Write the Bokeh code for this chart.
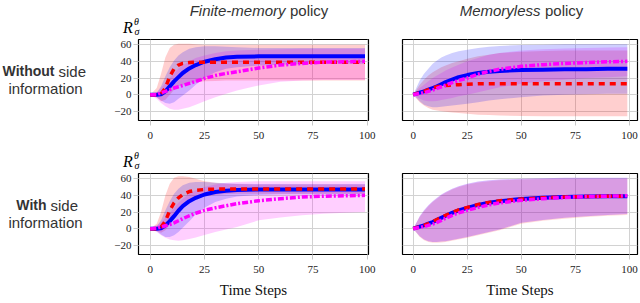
from bokeh.plotting import figure
from bokeh.layouts import column, row
from bokeh.models import Range1d, FixedTicker
from bokeh.core.properties import value
from bokeh.embed import file_html
from bokeh.resources import INLINE

# ---------------- data ----------------
T = [0, 3, 5, 7, 9, 11, 13, 15, 18, 21, 25, 30, 35, 40, 50, 60, 70, 80, 90, 99]
x_ticks = [0, 25, 50, 75, 100]
y_ticks = [-20, 0, 20, 40, 60]
col_titles = [("Finite-memory", "policy"), ("Memoryless", "policy")]
row_titles = [("Without", "side", "information"), ("With", "side", "information")]
x_label = "Time Steps"

# Finite-memory, without side information
TL_blue = [0, 0, 0.5, 4, 10, 16, 21, 26, 31.5, 35.5, 39.5, 42.5, 44.5, 45.5, 46, 46, 46, 46, 46, 46]
TL_blue_hi = [0, 2, 10, 22, 33, 41, 47, 51, 55, 57, 58, 58, 57.5, 57, 56, 56, 56, 56, 56, 56]
TL_blue_lo = [0, -3, -7, -10, -11, -9, -5, -1, 5, 12, 20, 27, 31, 33, 35, 36, 36.5, 37, 37, 37]
TL_red = [0, 0, 1, 8, 22, 31, 35.5, 37.5, 38.5, 39, 39, 39, 39, 39, 39, 39, 39, 39, 39, 39]
TL_red_hi = [0, 8, 25, 45, 56, 60, 61, 61, 61, 60.5, 60, 60, 60, 60, 60, 60, 60, 60, 60, 60]
TL_red_lo = [0, -3, -8, -6, 0, 6, 10, 12, 14, 15, 16, 16.5, 17, 17, 17, 17, 17, 17, 17, 17]
TL_mag = [0, 0, 2, 4, 6, 8, 9.5, 11, 13.5, 16, 19.5, 23, 25.5, 27.5, 32, 35.5, 37.5, 39, 39.5, 40]
TL_mag_hi = [0, 3, 8, 14, 20, 26, 31, 35, 40, 44, 47, 50, 52, 53, 54, 54.5, 55, 55, 55, 55]
TL_mag_lo = [0, -5, -10, -14, -17, -18, -18, -17, -15, -12, -8, -3, 1, 5, 11, 15.5, 17, 17.5, 17.5, 17.5]

# Memoryless, without side information
TR_blue = [0, 2.5, 4, 6, 8, 10, 12.5, 15, 18, 21, 23.5, 26, 27.5, 28.5, 29.5, 30, 30.5, 30.5, 31, 31]
TR_blue_hi = [0, 17, 25, 31, 37, 41, 44.5, 47, 50, 52, 54, 56, 57.5, 58.5, 59.5, 60, 60.5, 60.5, 60.5, 60.5]
TR_blue_lo = [0, -8, -12, -14, -15, -15, -14.5, -14, -13, -12, -11, -9, -7, -5.5, -3, -1, 0, 0.5, 1, 1]
TR_red = [0, 2.5, 4, 6, 8, 9.5, 10.5, 11, 11.5, 12, 12.5, 13, 13, 13, 13, 13, 13, 13, 13, 13]
TR_red_hi = [0, 12, 18, 23, 27, 30, 33, 35, 38, 40, 43, 46, 48, 50, 51.5, 52.5, 53, 53, 53, 53]
TR_red_lo = [0, -9, -13, -16, -18, -19, -20, -20.5, -21.5, -22, -23, -24, -24.5, -25, -25.5, -26, -26, -26, -26, -26]
TR_mag = [0, 1.5, 2.5, 4, 5.5, 7.5, 9.5, 11.5, 14.5, 17, 20, 24.5, 28, 30.5, 34, 36, 37.5, 38.5, 39.5, 40]
TR_mag_hi = [0, 8, 12, 16, 20, 23, 26, 29, 32.5, 36, 40, 44, 48, 50, 53, 54.5, 55.5, 56, 56.5, 57]
TR_mag_lo = [0, -5, -7, -8, -8, -7.5, -6.5, -5.5, -4, -2, 0, 3, 6, 9, 13, 16, 18, 20, 21, 22]

# Finite-memory, with side information
BL_blue = [0, 0, 0.5, 4, 9, 15, 21.5, 27, 33, 37, 41, 44, 45.5, 46.5, 47, 47, 47, 47, 47, 47]
BL_blue_hi = [0, 3, 10, 22, 33, 42, 48, 52, 55, 56, 56, 55, 54.5, 54, 53.5, 53.5, 53.5, 53.5, 53.5, 53.5]
BL_blue_lo = [0, -3, -7, -10, -10, -8, -4, 1, 9, 17, 25, 32, 36, 38.5, 40.5, 41, 41, 41, 41, 41]
BL_red = [0, 0, 2, 9, 22, 31, 37, 41, 44.5, 46, 47, 47.5, 47.5, 47.5, 47.5, 47.5, 47.5, 47.5, 47.5, 47.5]
BL_red_hi = [0, 6, 20, 40, 54, 61, 63, 63, 62, 60, 57, 55, 54, 53.5, 53, 53, 53, 53, 53, 53]
BL_red_lo = [0, -3, -5, -2, 5, 14, 22, 28, 33, 36, 39, 40.5, 41.5, 42, 42, 42, 42, 42, 42, 42]
BL_mag = [0, 0.5, 2, 3.5, 5, 7, 9.5, 12, 15.5, 18.5, 22, 25, 27.5, 30, 33.5, 36, 38, 39, 39.5, 40]
BL_mag_hi = [0, 4, 8, 13, 19, 25, 31, 36, 42, 46, 50, 53, 55, 56, 57, 57, 57, 57, 57, 57]
BL_mag_lo = [0, -4, -8, -11, -13, -14, -14.5, -14, -12.5, -10.5, -7.5, -4, -1, 2, 10, 13.5, 16, 18, 19, 20]

# Memoryless, with side information
BR_blue = [0, 2.5, 4, 6, 8, 10.5, 13, 15.5, 19, 22, 25, 28.5, 31, 33, 35.5, 37, 38, 38.5, 39, 39]
BR_red = [0, 2.5, 4, 6, 8.5, 11, 13.5, 16, 19.5, 22.5, 25.5, 29, 31.5, 33.5, 35.5, 37, 38, 38.5, 39, 39]
BR_mag = [0, 1.5, 2.5, 4, 5.5, 7.5, 10, 12.5, 16, 19, 22, 25.5, 28.5, 31, 34, 36, 37.5, 38.5, 39, 39.5]
BR_band_hi = [0, 15, 22, 28, 33, 37, 41, 44, 48, 51, 54, 56.5, 58, 59, 60, 60.5, 61, 61, 61, 61]
BR_band_lo = [0, -9, -13, -15, -16, -16, -15.5, -15, -13.5, -12, -10, -7, -4, -1, 7, 10.5, 13, 15, 16.5, 17.5]
BR_band_hi2 = [0, 14, 21, 27, 32, 36, 40, 43, 47, 50, 53, 55.5, 57, 58, 59, 59.5, 60, 60, 60, 60]
BR_band_lo2 = [0, -10, -14, -16, -17, -17, -16.5, -16, -14.5, -13, -11, -8, -5, -2, 6, 9.5, 12, 14, 15.5, 16.5]

# ---------------- styling ----------------
BLUE, RED, MAG = "#0000ff", "#ff0000", "#ff00ff"
BAND_ALPHA = 0.19
BR_ALPHA = 0.15
TXT = "#333333"
SANS = value("Liberation Sans")
SERIF = value("Liberation Serif")
Y0, Y1 = -31, 66.2
MAG_DASH = "6 2 2 2"
RED_DASH = "6 5"


def strip(w, h, bt=0, bb=0):
    # data units == pixels (y measured upward from the figure's bottom edge)
    s = figure(width=w, height=h, x_range=Range1d(0, w), y_range=Range1d(bb, h - bt),
               x_axis_type=None, y_axis_type=None, output_backend="svg",
               toolbar_location=None, min_border=0,
               min_border_top=bt, min_border_bottom=bb)
    s.outline_line_color = None
    s.background_fill_color = "white"
    s.border_fill_color = "white"
    return s


def txt(s, x, y, t, font, style, size, align, color=TXT):
    s.text(x=[x], y=[y], text=[t], text_font=font, text_font_style=style,
           text_font_size=size, text_color=color, text_align=align, text_baseline="middle")


def rlabel(s, x, y):
    txt(s, x, y, "R", SERIF, "italic", "16px", "center", "black")
    txt(s, x + 8.5, y + 5.5, "θ", SERIF, "italic", "10px", "center", "black")
    txt(s, x + 9, y - 4.5, "σ", SERIF, "italic", "10px", "center", "black")


def panel(w, h, bl, br, bt, bb, xr, show_y, bands, lines, alpha, xlabel=None):
    p = figure(width=w, height=h, x_range=Range1d(*xr), y_range=Range1d(Y0, Y1),
               output_backend="svg", toolbar_location=None,
               min_border_left=bl, min_border_right=br, min_border_top=bt, min_border_bottom=bb)
    p.background_fill_color = "white"
    p.border_fill_color = "white"
    p.outline_line_color = "black"
    p.outline_line_width = 1.2
    for ax in p.axis:
        ax.axis_line_color = None
        ax.major_tick_line_color = "#c8c8c8"
        ax.major_tick_out = 5
        ax.major_tick_in = 0
        ax.minor_tick_line_color = None
        ax.major_label_text_font = "Liberation Serif"
        ax.major_label_text_font_size = "11px"
        ax.major_label_text_color = "#222222"
    p.xaxis.ticker = FixedTicker(ticks=x_ticks)
    p.yaxis.ticker = FixedTicker(ticks=y_ticks)
    p.xaxis.major_label_standoff = 6
    p.yaxis.major_label_standoff = 2
    p.yaxis.major_label_overrides = {t: str(t).replace("-", "\u2212") for t in y_ticks}
    p.xgrid.ticker = FixedTicker(ticks=x_ticks)
    p.ygrid.ticker = FixedTicker(ticks=y_ticks)
    p.grid.grid_line_color = "#d2d2d2"
    p.grid.grid_line_width = 1
    if not show_y:
        p.yaxis.visible = False
    if xlabel:
        p.xaxis.axis_label = xlabel
        p.xaxis.axis_label_text_font = "Liberation Serif"
        p.xaxis.axis_label_text_font_style = "normal"
        p.xaxis.axis_label_text_font_size = "15px"
        p.xaxis.axis_label_text_color = "#111111"
        p.xaxis.axis_label_standoff = 6
    for lo, hi, c in bands:
        p.varea(x=T, y1=lo, y2=hi, fill_color=c, fill_alpha=alpha)
    for ys, c, lw, dash in lines:
        p.line(x=T, y=ys, line_color=c, line_width=lw, line_dash=dash)
    return p


W = 640
LAB_W = 98
TLW, TRW = 287, 255
TOP_H, ROW1_H, MID_H, ROW2_H = 38, 108, 26, 130
BB1, BB2 = 26, 48

# top strip with column titles and R label
top = strip(W, TOP_H)
for (ital, norm), xs in zip(col_titles, [285, 540]):
    txt(top, xs, 28.5, ital, SANS, "italic", "15px", "right")
    txt(top, xs + 4.5, 28.5, norm, SANS, "normal", "15px", "left")
rlabel(top, 127.5, 11.3)

mid = strip(W, MID_H)
rlabel(mid, 127.5, 11.5)


def row_label(h, bb, words, split, y1, y2):
    # same borders as the neighbouring panels, so the frames line up
    s = strip(LAB_W, h, bt=1, bb=bb)
    txt(s, split, h - y1, words[0], SANS, "bold", "14px", "right")
    txt(s, split + 4, h - y1, words[1], SANS, "normal", "15px", "left")
    txt(s, 45, h - y2, words[2], SANS, "normal", "15px", "center")
    return s


lab1 = row_label(ROW1_H, BB1, row_titles[0], 54, 32.5, 49.5)
lab2 = row_label(ROW2_H, BB2, row_titles[1], 46, 32.5, 50)

XL = (-5.4, 100.6)
XR = (-4.95, 103.7)

tl = panel(TLW, ROW1_H, 40, 17, 1, BB1, XL, True,
           [(TL_red_lo, TL_red_hi, RED), (TL_mag_lo, TL_mag_hi, MAG), (TL_blue_lo, TL_blue_hi, BLUE)],
           [(TL_blue, BLUE, 4, "solid"), (TL_red, RED, 3.5, RED_DASH), (TL_mag, MAG, 3.5, MAG_DASH)],
           BAND_ALPHA)
tr = panel(TRW, ROW1_H, 17, 3, 1, BB1, XR, False,
           [(TR_red_lo, TR_red_hi, RED), (TR_mag_lo, TR_mag_hi, MAG), (TR_blue_lo, TR_blue_hi, BLUE)],
           [(TR_blue, BLUE, 4, "solid"), (TR_red, RED, 3.5, RED_DASH), (TR_mag, MAG, 3.5, MAG_DASH)],
           BAND_ALPHA)
bl = panel(TLW, ROW2_H, 40, 17, 1, BB2, XL, True,
           [(BL_red_lo, BL_red_hi, RED), (BL_mag_lo, BL_mag_hi, MAG), (BL_blue_lo, BL_blue_hi, BLUE)],
           [(BL_blue, BLUE, 4, "solid"), (BL_red, RED, 3.5, RED_DASH), (BL_mag, MAG, 3.5, MAG_DASH)],
           BAND_ALPHA, xlabel=x_label)
br = panel(TRW, ROW2_H, 17, 3, 1, BB2, XR, False,
           [(BR_band_lo2, BR_band_hi2, RED), (BR_band_lo, BR_band_hi, MAG), (BR_band_lo, BR_band_hi, BLUE)],
           [(BR_blue, BLUE, 4, "solid"), (BR_red, RED, 3.5, RED_DASH), (BR_mag, MAG, 3.5, MAG_DASH)],
           BR_ALPHA, xlabel=x_label)

layout = column(top, row(lab1, tl, tr), mid, row(lab2, bl, br))
open("out.html", "w").write(file_html(layout, INLINE))
